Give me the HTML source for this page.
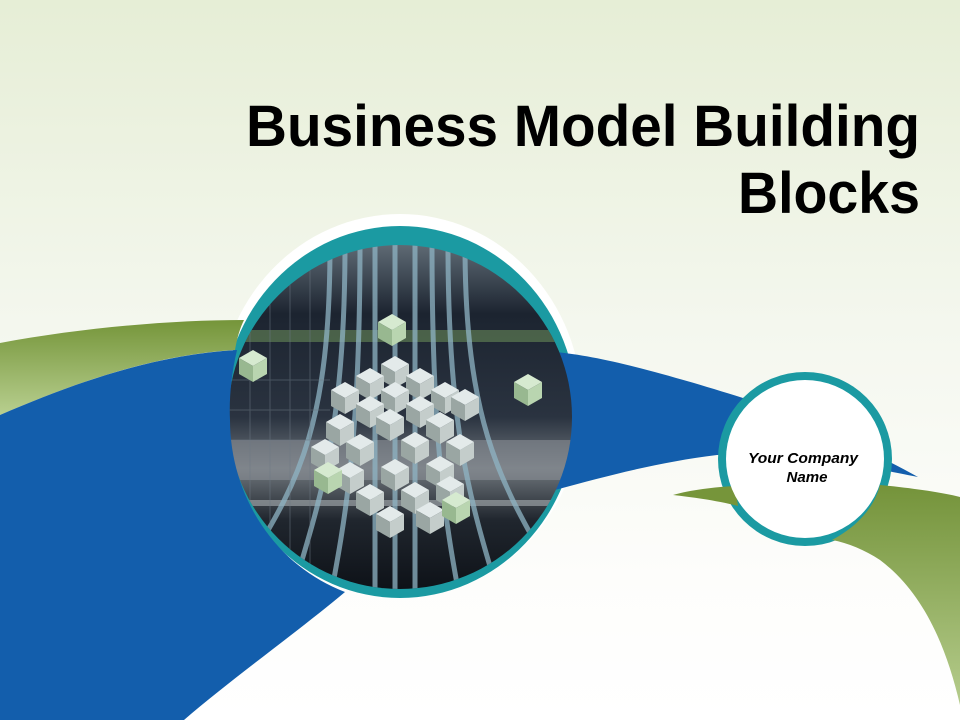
<!DOCTYPE html>
<html><head><meta charset="utf-8"><style>
html,body{margin:0;padding:0;width:960px;height:720px;overflow:hidden}
svg{display:block}
</style></head><body>
<svg width="960" height="720" viewBox="0 0 960 720" xmlns="http://www.w3.org/2000/svg">
<defs>
<linearGradient id="bg" x1="0" y1="0" x2="0" y2="1">
<stop offset="0" stop-color="#e6eed6"/><stop offset="0.45" stop-color="#f4f7ee"/><stop offset="0.8" stop-color="#fdfdfb"/><stop offset="1" stop-color="#ffffff"/>
</linearGradient>
<linearGradient id="gl" x1="0" y1="0" x2="0" y2="1">
<stop offset="0" stop-color="#75953a"/><stop offset="1" stop-color="#b8cf8f"/>
</linearGradient>
<linearGradient id="gr" x1="0" y1="0" x2="0" y2="1">
<stop offset="0" stop-color="#74933a"/><stop offset="1" stop-color="#b5cc8c"/>
</linearGradient>
<linearGradient id="img" x1="0" y1="0" x2="0" y2="1">
<stop offset="0" stop-color="#5e6a74"/><stop offset="0.2" stop-color="#1c2430"/><stop offset="0.5" stop-color="#2a3340"/><stop offset="0.65" stop-color="#6f767c"/><stop offset="0.8" stop-color="#20262e"/><stop offset="1" stop-color="#0e1218"/>
</linearGradient>
<clipPath id="cc"><circle cx="400" cy="417" r="172"/></clipPath>
<g id="cube">
<polygon points="0,-16 14,-8 0,0 -14,-8" fill="#e3eaea"/>
<polygon points="-14,-8 0,0 0,16 -14,8" fill="#9aa6a3"/>
<polygon points="14,-8 0,0 0,16 14,8" fill="#c4cdcb"/>
</g>
<g id="gcube">
<polygon points="0,-16 14,-8 0,0 -14,-8" fill="#d6ead0"/>
<polygon points="-14,-8 0,0 0,16 -14,8" fill="#98b890"/>
<polygon points="14,-8 0,0 0,16 14,8" fill="#b9d5b0"/>
</g>
</defs>
<rect width="960" height="720" fill="url(#bg)"/>

<ellipse cx="400" cy="406" rx="182" ry="192" fill="#ffffff"/>
<ellipse cx="400" cy="412" rx="177" ry="186" fill="#1b9aa2"/>

<path d="M555,352 C600,356 660,372 743,398 C800,420 870,450 918,477 C880,470 800,450 717,455 C660,462 610,475 555,490 Z" fill="#135eac"/>

<circle cx="400" cy="417" r="172" fill="url(#img)"/>
<g clip-path="url(#cc)">
<rect x="220" y="330" width="360" height="12" fill="#5d7a52" opacity="0.7"/>
<rect x="220" y="440" width="360" height="40" fill="#8a9096" opacity="0.6"/>
<rect x="220" y="500" width="360" height="6" fill="#aab0b4" opacity="0.6"/>
<g stroke="#8fb4c4" stroke-width="5" fill="none" opacity="0.75">
<path d="M330,245 C330,420 300,480 250,560"/>
<path d="M345,245 C345,430 320,500 290,600"/>
<path d="M360,245 C360,440 345,520 330,600"/>
<path d="M375,245 L375,600"/>
<path d="M395,245 L395,600"/>
<path d="M415,245 L415,600"/>
<path d="M432,245 C432,440 445,520 460,600"/>
<path d="M448,245 C448,430 470,500 500,600"/>
<path d="M465,245 C465,420 500,480 545,560"/>
</g>
<g stroke="#6d7883" stroke-width="1" opacity="0.5">
<path d="M250,260 V580 M270,260 V580 M290,260 V580 M310,260 V580"/>
<path d="M228,380 H330 M228,410 H330 M228,440 H330"/>
</g>
<use href="#gcube" x="392" y="330"/>
<use href="#gcube" x="253" y="366"/>
<use href="#gcube" x="528" y="390"/>
<use href="#cube" x="395" y="372"/>
<use href="#cube" x="370" y="384"/><use href="#cube" x="420" y="384"/>
<use href="#cube" x="345" y="398"/><use href="#cube" x="395" y="398"/><use href="#cube" x="445" y="398"/>
<use href="#cube" x="370" y="412"/><use href="#cube" x="420" y="412"/><use href="#cube" x="465" y="405"/>
<use href="#cube" x="340" y="430"/><use href="#cube" x="390" y="425"/><use href="#cube" x="440" y="428"/>
<use href="#cube" x="325" y="455"/><use href="#cube" x="360" y="450"/><use href="#cube" x="415" y="448"/><use href="#cube" x="460" y="450"/>
<use href="#cube" x="350" y="478"/><use href="#cube" x="395" y="475"/><use href="#cube" x="440" y="472"/>
<use href="#cube" x="370" y="500"/><use href="#cube" x="415" y="498"/><use href="#cube" x="450" y="492"/>
<use href="#cube" x="390" y="522"/><use href="#cube" x="430" y="518"/>
<use href="#gcube" x="328" y="478"/>
<use href="#gcube" x="456" y="508"/>
</g>

<path d="M0,343 C80,328 170,320 244,320 C240,328 237,338 235,350 C150,355 70,385 0,415 Z" fill="url(#gl)"/>
<path d="M0,415 C70,385 150,355 237,350 C231,375 229,400 230,420 A 174 183 0 0 0 345,592 C300,630 230,680 184,720 L0,720 Z" fill="#135eac"/>

<circle cx="805" cy="459" r="87" fill="#1b9aa2"/>
<path d="M673,495 C690,490 715,487 735,486 L738,506 C715,500 690,497 673,495 Z" fill="#76953a"/>
<path d="M880,485 C910,488 940,492 960,497 L960,705 C945,640 920,590 880,560 C865,550 848,543 832,540 C860,525 875,505 880,485 Z" fill="url(#gr)"/>
<circle cx="805" cy="459" r="79" fill="#ffffff"/>
<text x="803" y="463" font-family="Liberation Sans, sans-serif" font-size="15" font-weight="bold" font-style="italic" text-anchor="middle" fill="#000" textLength="110" lengthAdjust="spacingAndGlyphs">Your Company</text>
<text x="807" y="482" font-family="Liberation Sans, sans-serif" font-size="15" font-weight="bold" font-style="italic" text-anchor="middle" fill="#000" textLength="41" lengthAdjust="spacingAndGlyphs">Name</text>

<text x="920" y="146" font-family="Liberation Sans, sans-serif" font-size="58" font-weight="bold" text-anchor="end" fill="#000" textLength="674" lengthAdjust="spacingAndGlyphs">Business Model Building</text>
<text x="920" y="213" font-family="Liberation Sans, sans-serif" font-size="58" font-weight="bold" text-anchor="end" fill="#000" textLength="182" lengthAdjust="spacingAndGlyphs">Blocks</text>
</svg>
</body></html>
